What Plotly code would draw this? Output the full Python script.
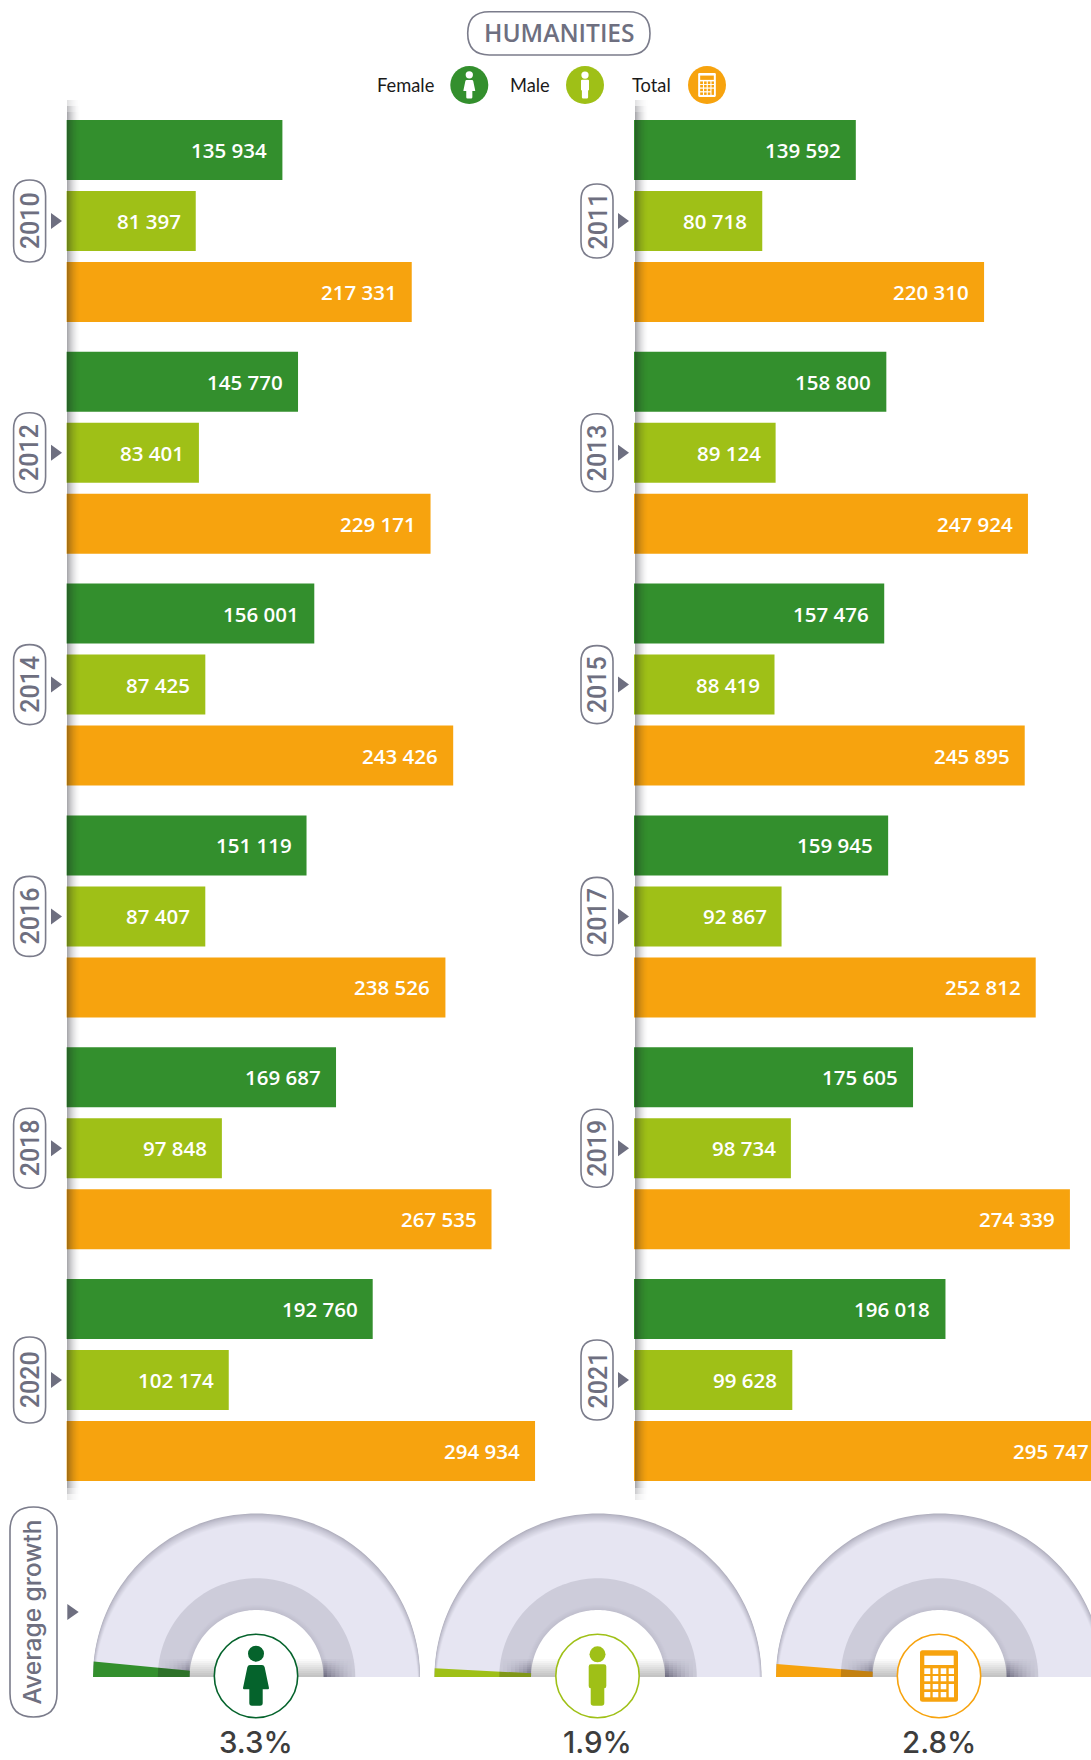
import math
import plotly.graph_objects as go

# ---- data ----
left_years = ["2010", "2012", "2014", "2016", "2018", "2020"]
right_years = ["2011", "2013", "2015", "2017", "2019", "2021"]
left_female = [135934, 145770, 156001, 151119, 169687, 192760]
left_male = [81397, 83401, 87425, 87407, 97848, 102174]
left_total = [217331, 229171, 243426, 238526, 267535, 294934]
right_female = [139592, 158800, 157476, 159945, 175605, 196018]
right_male = [80718, 89124, 88419, 92867, 98734, 99628]
right_total = [220310, 247924, 245895, 252812, 274339, 295747]
series_names = ["Female", "Male", "Total"]
growth_values = [3.3, 1.9, 2.8]
growth_scale_max = 110

# ---- styling ----
W, H = 1091, 1760
GREEN, LIME, ORANGE = "#338F2D", "#9FC017", "#F7A30E"
SLATE = "#6E6F80"
ICON_COLORS = ["#05632C", "#9FC017", "#F7A30E"]
SERIES_COLORS = [GREEN, LIME, ORANGE]
BAR_FONT = "Open Sans"
DISPLAY_FONT = "Inter"
PX_PER_UNIT = 0.001589
LEFT_X0, RIGHT_X0 = 66.4, 634.0
LEFT_X1, RIGHT_X1 = 560.0, float(W)
GROUP_H = 231.8
SLOT_H = 71.0
BAR_H = 60.0
PLOT_TOP = 105.1
PLOT_BOTTOM = PLOT_TOP + GROUP_H * 6
BASE_Y = 1677.0
GAUGE_X = [256.5, 598.0, 939.5]
R_OUT, R_BAND, R_HOLE = 163.5, 98.7, 67.0
LEFT_MAX = (LEFT_X1 - LEFT_X0) / PX_PER_UNIT
RIGHT_MAX = (RIGHT_X1 - RIGHT_X0) / PX_PER_UNIT

fig = go.Figure()
shapes, notes = [], []


def px_shape(**kw):
    kw.setdefault("xref", "x3")
    kw.setdefault("yref", "y3")
    kw.setdefault("line", dict(width=0))
    kw.setdefault("layer", "above")
    shapes.append(kw)


def px_note(x, y, text, size, color, font=DISPLAY_FONT, weight=400, anchor="center", angle=0, **extra):
    notes.append(dict(x=x, y=y, xref="x3", yref="y3", text=text, showarrow=False,
                      xanchor=anchor, yanchor="middle", textangle=angle,
                      font=dict(family=font, size=size, color=color, weight=weight), **extra))


def pill(x0, y0, x1, y1, width=1.6):
    r = min(x1 - x0, y1 - y0) / 2
    path = (f"M {x0+r} {y0} L {x1-r} {y0} Q {x1} {y0} {x1} {y0+r} L {x1} {y1-r} "
            f"Q {x1} {y1} {x1-r} {y1} L {x0+r} {y1} Q {x0} {y1} {x0} {y1-r} "
            f"L {x0} {y0+r} Q {x0} {y0} {x0+r} {y0} Z")
    px_shape(type="path", path=path, line=dict(color="#7B7C8B", width=width), fillcolor="rgba(0,0,0,0)")


def triangle(x0, x1, yc, half=8):
    px_shape(type="path", path=f"M {x0} {yc-half} L {x1} {yc} L {x0} {yc+half} Z", fillcolor=SLATE)


# ---- horizontal bars, two panels ----
def add_panel(years, values, xa, ya, axis_max):
    for name, vals, color in zip(series_names, values, SERIES_COLORS):
        fig.add_trace(go.Bar(y=years, x=vals, name=name, orientation="h", marker=dict(color=color, line=dict(width=0)),
                             xaxis=xa, yaxis=ya, hoverinfo="skip", showlegend=False))
    # numeric-looking categories are addressed by their index on the axis;
    # a bar running past the axis end keeps its label anchored to the true value
    for k, vals in enumerate(values):
        for idx, v in enumerate(vals):
            anchor_x = min(v, axis_max)
            notes.append(dict(x=anchor_x, y=idx, xref=xa, yref=ya, text=f"{v:,}".replace(",", " "),
                              showarrow=False, xanchor="right", yanchor="middle",
                              xshift=-13 + (v - anchor_x) * PX_PER_UNIT,
                              yshift=(1 - k) * SLOT_H,
                              font=dict(family=BAR_FONT, size=20.5, color="white", weight=600)))


add_panel(left_years, [left_female, left_male, left_total], "x", "y", LEFT_MAX)
add_panel(right_years, [right_female, right_male, right_total], "x2", "y2", RIGHT_MAX)


# soft shadow falling from the spine over each bar column
def spine_shadow(x0):
    x0 = round(x0 + 0.6)
    steps = 13
    fades = [(100, 106, .35), (106, 112, .75), (112, 1488, 1.0), (1488, 1494, .6), (1494, 1500, .25)]
    for i in range(steps):
        alpha = 0.36 * (1 - i / steps) ** 1.7
        for y0, y1, f in fades:
            px_shape(type="rect", x0=x0 + i, x1=x0 + i + 1, y0=y0, y1=y1,
                     fillcolor=f"rgba(20,20,30,{alpha * f:.3f})")


spine_shadow(LEFT_X0)
spine_shadow(RIGHT_X0)

# year pills and arrows
pill_len_left = [82, 80, 80, 80, 80, 86]
pill_len_right = [74, 78, 78, 78, 78, 80]
for i in range(6):
    yc = PLOT_TOP + GROUP_H * (i + 0.5)
    for yr, ln, xc, ax0 in ((left_years[i], pill_len_left[i], 29.6, 51),
                            (right_years[i], pill_len_right[i], 597, 618)):
        pill(xc - 16, yc - ln / 2, xc + 16, yc + ln / 2)
        triangle(ax0, ax0 + 11, yc)
        px_note(xc + 0.5, yc, yr, 25, SLATE, font="Roboto", weight=500, angle=-90)


# ---- gauges ----
def half_disc(cx, r, shift=0.0):
    a0 = math.asin(min(1, shift / r))
    n = 90
    pts = []
    for i in range(n + 1):
        a = a0 + (math.pi - 2 * a0) * i / n
        pts.append((cx - r * math.cos(a), BASE_Y + shift - r * math.sin(a)))
    return "M " + " L ".join(f"{x:.2f} {y:.2f}" for x, y in pts) + " Z"


def mix(c0, c1, t):
    return "rgb(" + ",".join(str(round(a + (b - a) * t)) for a, b in zip(c0, c1)) + ")"


def sector(cx, r0, r1, deg):
    n = 12
    pts = []
    for i in range(n + 1):
        a = math.radians(deg * i / n)
        pts.append((cx - r1 * math.cos(a), BASE_Y - r1 * math.sin(a)))
    for i in range(n, -1, -1):
        a = math.radians(deg * i / n)
        pts.append((cx - r0 * math.cos(a), BASE_Y - r0 * math.sin(a)))
    pts.append(pts[0])
    return [p[0] for p in pts], [p[1] for p in pts]


for cx, value, color in zip(GAUGE_X, growth_values, SERIES_COLORS):
    for k in range(11):
        px_shape(type="path", path=half_disc(cx, R_OUT - k * 0.22, k * 0.75), layer="below",
                 fillcolor=mix((176, 175, 190), (230, 229, 242), (k / 10) ** 0.75))
    px_shape(type="path", path=half_disc(cx, R_BAND), layer="below", fillcolor="#CDCCDA")
    for k in range(6):
        px_shape(type="path", path=half_disc(cx, R_HOLE + 6 - k), layer="below",
                 fillcolor=mix((205, 204, 218), (192, 191, 206), k / 5))
    px_shape(type="path", path=half_disc(cx, R_HOLE), layer="below", fillcolor="white")
    # darkening where the arcs meet the baseline
    for j in range(9):
        y0 = BASE_Y - 18 + j * 2
        a = 0.03 + 0.042 * j
        px_shape(type="rect", x0=cx - R_HOLE, x1=cx + R_HOLE, y0=y0, y1=y0 + 2, layer="below",
                 fillcolor=f"rgba(60,60,60,{a * 0.85:.3f})")
        for s in (-1, 1):
            for c in range(8):
                xa = cx + s * (R_HOLE + c * 4)
                xb = cx + s * (R_HOLE + (c + 1) * 4)
                px_shape(type="rect", x0=min(xa, xb), x1=max(xa, xb), y0=y0, y1=y0 + 2, layer="below",
                         fillcolor=f"rgba(50,48,70,{a * 1.5 * (1 - c / 8) ** 1.5:.3f})")
    # value wedge, read from the left end of the arc
    deg = value / growth_scale_max * 180
    xs, ys = sector(cx, R_HOLE, R_OUT, deg)
    fig.add_trace(go.Scatter(x=xs, y=ys, xaxis="x3", yaxis="y3", mode="lines", fill="toself", fillcolor=color,
                             line=dict(width=0, color=color), hoverinfo="skip", showlegend=False))
    xs, ys = sector(cx, R_HOLE, R_BAND, deg)
    fig.add_trace(go.Scatter(x=xs, y=ys, xaxis="x3", yaxis="y3", mode="lines", fill="toself",
                             fillcolor="rgba(30,20,30,0.24)", line=dict(width=0, color="rgba(0,0,0,0)"),
                             hoverinfo="skip", showlegend=False))


# ---- pictograms, drawn around a unit of the gauge badge radius ----
def female_icon(cx, cy, s, color):
    def p(x, y):
        return f"{cx + x * s:.2f} {cy + y * s:.2f}"
    px_shape(type="circle", x0=cx - 8 * s, x1=cx + 8 * s, y0=cy - 30.3 * s, y1=cy - 14.3 * s, fillcolor=color)
    path = ("M " + p(-6, -11) + " L " + p(6, -11) + " Q " + p(8, -11) + " " + p(8.6, -9) + " L " + p(13, 12) +
            " Q " + p(13, 13.3) + " " + p(12, 13.3) + " L " + p(6.7, 13.3) + " L " + p(6.7, 27) +
            " Q " + p(6.7, 29.7) + " " + p(4, 29.7) + " L " + p(-4, 29.7) + " Q " + p(-6.7, 29.7) + " " + p(-6.7, 27) +
            " L " + p(-6.7, 13.3) + " L " + p(-12, 13.3) + " Q " + p(-13, 13.3) + " " + p(-13, 12) +
            " L " + p(-8.6, -9) + " Q " + p(-8, -11) + " " + p(-6, -11) + " Z")
    px_shape(type="path", path=path, fillcolor=color)


def male_icon(cx, cy, s, color):
    def p(x, y):
        return f"{cx + x * s:.2f} {cy + y * s:.2f}"
    px_shape(type="circle", x0=cx - 8 * s, x1=cx + 8 * s, y0=cy - 29.7 * s, y1=cy - 13.7 * s, fillcolor=color)
    path = ("M " + p(-6.5, -11.7) + " L " + p(6.5, -11.7) + " Q " + p(8.8, -11.7) + " " + p(8.8, -9.5) +
            " L " + p(8.8, 10) + " Q " + p(8.8, 12.3) + " " + p(6.8, 12.3) + " L " + p(6.8, 27) +
            " Q " + p(6.8, 29.7) + " " + p(4, 29.7) + " L " + p(-4, 29.7) + " Q " + p(-6.8, 29.7) + " " + p(-6.8, 27) +
            " L " + p(-6.8, 12.3) + " Q " + p(-8.8, 12.3) + " " + p(-8.8, 10) + " L " + p(-8.8, -9.5) +
            " Q " + p(-8.8, -11.7) + " " + p(-6.5, -11.7) + " Z")
    px_shape(type="path", path=path, fillcolor=color)


def calc_icon(cx, cy, s, color, hole):
    def rect(x0, x1, y0, y1, fill):
        px_shape(type="rect", x0=cx + x0 * s, x1=cx + x1 * s, y0=cy + y0 * s, y1=cy + y1 * s, fillcolor=fill)
    path_r = 2.5
    x0, x1, y0, y1 = cx - 19 * s, cx + 19 * s, cy - 25.7 * s, cy + 25.7 * s
    r = path_r * s
    px_shape(type="path", fillcolor=color,
             path=(f"M {x0+r} {y0} L {x1-r} {y0} Q {x1} {y0} {x1} {y0+r} L {x1} {y1-r} Q {x1} {y1} {x1-r} {y1} "
                   f"L {x0+r} {y1} Q {x0} {y1} {x0} {y1-r} L {x0} {y0+r} Q {x0} {y0} {x0+r} {y0} Z"))
    rect(-14.7, 14.7, -20.3, -11, hole)
    cols = [(-14.7, -8.7), (-6.3, -0.7), (1.7, 7.3), (9.7, 15)]
    rows = [(-7.7, -2), (0, 5.3), (8, 13.3), (16, 21.3)]
    for c, (a, b) in enumerate(cols):
        for q, (t, u) in enumerate(rows):
            if c == 3 and q > 2:
                continue
            rect(a, b, t, u if not (c == 3 and q == 2) else 21.3, hole)


# badges under the gauges
BADGE_Y = 1676.0
BADGE_R = 41.7
for cx, col, lab, draw in zip(GAUGE_X, ICON_COLORS, growth_values, ("f", "m", "c")):
    cx_b = cx - 0.5
    px_shape(type="circle", x0=cx_b - BADGE_R, x1=cx_b + BADGE_R, y0=BADGE_Y - BADGE_R, y1=BADGE_Y + BADGE_R,
             fillcolor="white", line=dict(color=col, width=1.6))
    if draw == "f":
        female_icon(cx_b, BADGE_Y, 1, col)
    elif draw == "m":
        male_icon(cx_b, BADGE_Y, 1, col)
    else:
        calc_icon(cx_b, BADGE_Y, 1, col, "white")
    px_note(cx_b, 1742, f"{lab}%", 29.5, "#3D3D3D", weight=500)

# "Average growth" side label
pill(10, 1507, 57, 1717)
triangle(67.3, 78.7, 1612)
px_note(31.5, 1612, "Average growth", 24.5, SLATE, weight=500, angle=-90)

# ---- title and legend ----
pill(467.7, 11.7, 650, 55)
px_note(559, 32, "HUMANITIES", 24.5, SLATE, font=BAR_FONT, weight=600)

LEG_R = 19
LEG_S = LEG_R / BADGE_R
for name, tx, cx, col, draw in zip(series_names, (436, 552, 673), (469.3, 585, 707),
                                   SERIES_COLORS, ("f", "m", "c")):
    px_note(tx, 84.5, name, 18.3, "#1A1A1A", font="Lato", anchor="right")
    px_shape(type="circle", x0=cx - LEG_R, x1=cx + LEG_R, y0=85 - LEG_R, y1=85 + LEG_R, fillcolor=col)
    if draw == "f":
        female_icon(cx, 85, LEG_S, "white")
    elif draw == "m":
        male_icon(cx, 85, LEG_S, "white")
    else:
        calc_icon(cx, 85, LEG_S * 1.02, "white", col)

hidden = dict(visible=False, fixedrange=True, showgrid=False, zeroline=False)
y_domain = [1 - PLOT_BOTTOM / H, 1 - PLOT_TOP / H]
fig.update_layout(
    width=W, height=H, autosize=False,
    margin=dict(l=0, r=0, t=0, b=0, pad=0),
    paper_bgcolor="white", plot_bgcolor="rgba(0,0,0,0)",
    barmode="group",
    bargap=(GROUP_H - 3 * SLOT_H) / GROUP_H,
    bargroupgap=(SLOT_H - BAR_H) / SLOT_H,
    showlegend=False,
    xaxis=dict(domain=[LEFT_X0 / W, LEFT_X1 / W], range=[0, LEFT_MAX], anchor="y", **hidden),
    yaxis=dict(domain=y_domain, type="category", categoryorder="array", categoryarray=left_years,
               range=[5.5, -0.5], anchor="x", **hidden),
    xaxis2=dict(domain=[RIGHT_X0 / W, 1], range=[0, RIGHT_MAX], anchor="y2", **hidden),
    yaxis2=dict(domain=y_domain, type="category", categoryorder="array", categoryarray=right_years,
                range=[5.5, -0.5], anchor="x2", **hidden),
    xaxis3=dict(domain=[0, 1], range=[0, W], anchor="y3", **hidden),
    yaxis3=dict(domain=[0, 1], range=[H, 0], anchor="x3", **hidden),
    shapes=shapes,
    annotations=notes,
)

fig.write_html("out.html", config=dict(displayModeBar=False))
